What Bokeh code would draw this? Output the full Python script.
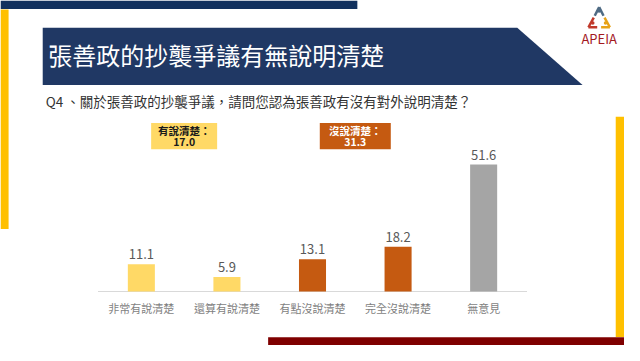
from bokeh.plotting import figure
from bokeh.models import Range1d, FactorRange, ColumnDataSource
from bokeh.core.properties import value
from bokeh.embed import file_html
from bokeh.resources import INLINE

# ---------------- data ----------------
title_text = "張善政的抄襲爭議有無說明清楚"
question_text = "Q4 、關於張善政的抄襲爭議，請問您認為張善政有沒有對外說明清楚？"
categories = ["非常有說清楚", "還算有說清楚", "有點沒說清楚", "完全沒說清楚", "無意見"]
values = [11.1, 5.9, 13.1, 18.2, 51.6]
group_labels = ["有說清楚：", "沒說清楚："]
group_totals = [17.0, 31.3]

# ---------------- styles ----------------
bar_colors = ["#FFD966", "#FFD966", "#C55A11", "#C55A11", "#A5A5A5"]
group_fill = ["#FFD966", "#C55A11"]
group_text_color = ["#1A1A1A", "#FFFFFF"]
group_pos = [1.0, 3.0]          # between the two categories of each group
group_widths = [66, 71]
FONT = value("Noto Sans CJK TC")

# design space = 640 x 361 reference pixels (y downward)
DW, DH = 640, 361
BASE = 304.5          # baseline (value 0) in design px
K = 2.574             # design px per value unit
PAD = 0.4584          # categorical range padding (percent)
HALF = len(categories) * PAD / 2
SPAN = len(categories) + 2 * HALF


def sx(X):
    """design-px x -> synthetic categorical coordinate"""
    return X / DW * SPAN - HALF


def sxs(xs):
    return [sx(v) for v in xs]


p = figure(width=624, height=345,
           x_range=FactorRange(factors=categories, range_padding=PAD,
                               range_padding_units="percent"),
           y_range=Range1d(DH, 0),
           x_axis_type=None, y_axis_type=None,
           toolbar_location=None, output_backend="svg",
           min_border=0, outline_line_color=None,
           background_fill_color="white", border_fill_color="white")
p.xgrid.visible = False
p.ygrid.visible = False
p.extra_y_ranges = {"val": Range1d(start=-(DH - BASE) / K, end=BASE / K)}

# ---------------- decorations ----------------
p.quad(left=sxs([0]), right=sxs([366]), top=[0], bottom=[9], color="#12315E", line_color=None)
p.quad(left=sxs([0]), right=sxs([8.3]), top=[9.3], bottom=[239], color="#FFC000", line_color=None)
p.quad(left=sxs([631]), right=sxs([640]), top=[121.7], bottom=[352], color="#FFC000", line_color=None)
p.quad(left=sxs([274.5]), right=sxs([640]), top=[352.3], bottom=[361], color="#7F0000", line_color=None)

# title banner
p.patch(x=sxs([43.3, 530, 597, 43.3]), y=[28.5, 28.5, 88.3, 88.3], color="#203864", line_color=None)
p.text(x=sxs([49]), y=[57], text=[title_text], text_font=FONT, text_font_size="24px",
       text_color="white", text_baseline="middle", text_align="left")

# logo (three figures forming a triangle)
p.segment(x0=sxs([614, 614]), y0=[7, 7], x1=sxs([609.5, 618.5]), y1=[16, 16],
          line_color="#4F6B84", line_width=2.5)
p.scatter(x=sxs([614]), y=[10.5], size=4.5, color="#4F6B84", line_color=None)
p.segment(x0=sxs([608.5, 603]), y0=[18, 28], x1=sxs([603, 612]), y1=[28, 28],
          line_color="#C0392B", line_width=2.5)
p.segment(x0=sxs([619.5, 625]), y0=[18, 28], x1=sxs([625, 616]), y1=[28, 28],
          line_color="#E8A317", line_width=2.5)
p.scatter(x=sxs([607.5, 620.5]), y=[23.5, 23.5], size=3.5, color=["#C0392B", "#E8A317"],
          line_color=None)
p.text(x=sxs([614]), y=[39.5], text=["APEIA"], text_font=FONT, text_font_size="13px",
       text_color="#A3191F", text_baseline="middle", text_align="center")

# question
p.text(x=sxs([46.5]), y=[105.5], text=[question_text], text_font=FONT, text_font_size="13.5px",
       text_color="#333333", text_baseline="middle", text_align="left")

# baseline
p.segment(x0=sxs([100]), y0=[BASE], x1=sxs([540]), y1=[BASE], line_color="#D9D9D9", line_width=1)

# ---------------- bars ----------------
src = ColumnDataSource(dict(cat=categories, val=values, color=bar_colors,
                            lbl=[f"{v:.1f}" for v in values]))
p.vbar(x="cat", top="val", bottom=0, width=0.316, color="color", line_color=None,
       source=src, y_range_name="val")
p.text(x="cat", y="val", text="lbl", source=src, y_range_name="val",
       y_offset=-5, text_font=FONT, text_font_size="13px", text_color="#595959",
       text_align="center", text_baseline="bottom")

# category labels
p.text(x=categories, y=[322] * len(categories), text=categories,
       text_font=FONT, text_font_size="11px", text_color="#7F7F7F",
       text_align="center", text_baseline="middle")

# group summary boxes
gsrc = ColumnDataSource(dict(x=group_pos, y=[142] * 2, w=group_widths, fill=group_fill,
                             tc=group_text_color, lab=group_labels,
                             tot=[f"{v:.1f}" for v in group_totals]))
p.rect(x="x", y="y", width="w", height=27.5, width_units="screen", fill_color="fill",
       line_color=None, source=gsrc)
p.text(x="x", y=136.5, text="lab", source=gsrc, text_font=FONT,
       text_font_size="10.5px", text_font_style="bold", text_color="tc",
       text_align="center", text_baseline="middle")
p.text(x="x", y=148.5, text="tot", source=gsrc, text_font=FONT,
       text_font_size="10.5px", text_font_style="bold", text_color="tc",
       text_align="center", text_baseline="middle")

open("out.html", "w").write(file_html(p, INLINE))
